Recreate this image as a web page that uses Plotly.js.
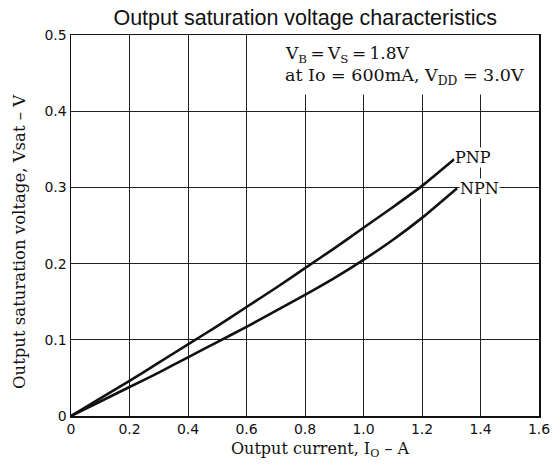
<!DOCTYPE html>
<html>
<head>
<meta charset="utf-8">
<script src="https://cdn.plot.ly/plotly-3.0.1.min.js"></script>
<style>html,body{margin:0;padding:0;background:#fff;}#chart{width:559px;height:467px;}</style>
</head>
<body>
<div id="chart"></div>
<script>
// Output current (A) and saturation voltage (V)
const pnpCurrent = [0, 0.1, 0.2, 0.3, 0.4, 0.5, 0.6, 0.7, 0.8, 0.9, 1.0, 1.1, 1.2, 1.31];
const pnpVoltage = [0, 0.023, 0.046, 0.070, 0.094, 0.118, 0.143, 0.168, 0.194, 0.220, 0.247, 0.274, 0.302, 0.337];
const npnCurrent = [0, 0.1, 0.2, 0.3, 0.4, 0.5, 0.6, 0.7, 0.8, 0.9, 1.0, 1.1, 1.2, 1.32];
const npnVoltage = [0, 0.019, 0.038, 0.057, 0.077, 0.097, 0.117, 0.138, 0.159, 0.181, 0.205, 0.231, 0.260, 0.299];
const xTickVals = [0, 0.2, 0.4, 0.6, 0.8, 1.0, 1.2, 1.4, 1.6];
const xTickText = ["0", "0.2", "0.4", "0.6", "0.8", "1.0", "1.2", "1.4", "1.6"];
const yTickVals = [0, 0.1, 0.2, 0.3, 0.4, 0.5];
const yTickText = ["0", "0.1", "0.2", "0.3", "0.4", "0.5"];
const seriesNames = ["PNP", "NPN"];

const serif = "DejaVu Serif, Liberation Serif, serif";
const sans = "Liberation Sans, Arial, sans-serif";
const tickFont = {family: "DejaVu Sans, sans-serif", size: 14, color: "#111"};

const traces = [
  {x: pnpCurrent, y: pnpVoltage, name: seriesNames[0], mode: "lines",
   line: {color: "#111", width: 2.6, shape: "spline", smoothing: 0.5}, hoverinfo: "skip"},
  {x: npnCurrent, y: npnVoltage, name: seriesNames[1], mode: "lines",
   line: {color: "#111", width: 2.6, shape: "spline", smoothing: 0.5}, hoverinfo: "skip"}
];

const layout = {
  width: 559, height: 467,
  margin: {l: 71, r: 20, t: 35, b: 51},
  paper_bgcolor: "#fff", plot_bgcolor: "#fff",
  showlegend: false,
  title: {text: "Output saturation voltage characteristics", x: 0.546, xanchor: "center",
          y: 0.962, yanchor: "middle", font: {family: sans, size: 21.5, color: "#111"}},
  xaxis: {range: [0, 1.6], tickvals: xTickVals, ticktext: xTickText,
          showgrid: true, gridcolor: "#222", gridwidth: 1, zeroline: false,
          showline: true, linecolor: "#111", linewidth: 1.5, mirror: true,
          ticks: "", tickfont: tickFont},
  yaxis: {range: [0, 0.5], tickvals: yTickVals, ticktext: yTickText,
          showgrid: true, gridcolor: "#222", gridwidth: 1, zeroline: false,
          showline: true, linecolor: "#111", linewidth: 1.5, mirror: true,
          ticks: "", tickfont: tickFont},
  shapes: [
    {type: "rect", xref: "x", yref: "y", x0: 0.72, x1: 1.6, y0: 0.422, y1: 0.5,
     fillcolor: "#fff", line: {width: 0}, layer: "between"}
  ],
  annotations: [
    {x: 320, y: 450, xref: "paper", yref: "paper", showarrow: false,
     text: "Output current, I<sub>O</sub> – A", font: {family: serif, size: 16, color: "#111"},
     xanchor: "center", yanchor: "middle"},
    {x: 20, y: 240, xref: "paper", yref: "paper", showarrow: false, textangle: -90,
     text: "Output saturation voltage, Vsat – V", font: {family: serif, size: 16.5, color: "#111"},
     xanchor: "center", yanchor: "middle"},
    {x: 0.725, y: 0.474, xref: "x", yref: "y", xanchor: "left", yanchor: "middle", showarrow: false,
     text: "V<sub>B</sub>\u2009=\u2009V<sub>S</sub>\u2009=\u20091.8V", font: {family: serif, size: 17, color: "#111"}},
    {x: 0.725, y: 0.445, xref: "x", yref: "y", xanchor: "left", yanchor: "middle", showarrow: false,
     text: "at Io = 600mA, V<sub>DD</sub> = 3.0V", font: {family: serif, size: 17.5, color: "#111"}},
    {x: 1.31, y: 0.339, xref: "x", yref: "y", xanchor: "left", yanchor: "middle", showarrow: false,
     text: seriesNames[0], bgcolor: "#fff", borderpad: 0, font: {family: serif, size: 16, color: "#111"}},
    {x: 1.325, y: 0.299, xref: "x", yref: "y", xanchor: "left", yanchor: "middle", showarrow: false,
     text: seriesNames[1], bgcolor: "#fff", borderpad: 0, font: {family: serif, size: 16, color: "#111"}}
  ]
};
// convert pixel positions for axis-title annotations into paper fractions
const plotW = layout.width - layout.margin.l - layout.margin.r;
const plotH = layout.height - layout.margin.t - layout.margin.b;
layout.annotations[0].x = (320 - layout.margin.l) / plotW;
layout.annotations[0].y = (layout.height - layout.margin.b - 450) / plotH;
layout.annotations[1].x = (20 - layout.margin.l) / plotW;
layout.annotations[1].y = (layout.height - layout.margin.b - 242) / plotH;

Plotly.newPlot("chart", traces, layout, {staticPlot: true, displayModeBar: false});
</script>
</body>
</html>
